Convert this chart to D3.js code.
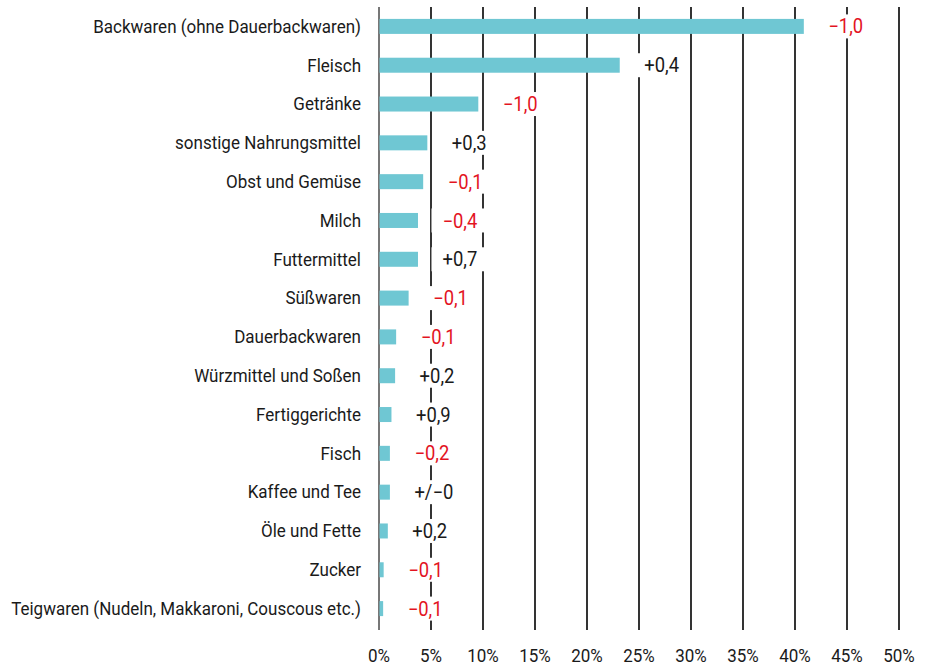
<!DOCTYPE html>
<html>
<head>
<meta charset="utf-8">
<script src="https://cdn.jsdelivr.net/npm/d3@7"></script>
<style>
  body { margin: 0; background: #fff; }
  text { font-family: "Roboto", "Liberation Sans", sans-serif; font-size: 18px; }
  .change-labels text { font-size: 19.5px; }
</style>
</head>
<body>
<svg></svg>
<script>
const categories = [
  'Backwaren (ohne Dauerbackwaren)', 'Fleisch', 'Getränke', 'sonstige Nahrungsmittel',
  'Obst und Gemüse', 'Milch', 'Futtermittel', 'Süßwaren', 'Dauerbackwaren',
  'Würzmittel und Soßen', 'Fertiggerichte', 'Fisch', 'Kaffee und Tee', 'Öle und Fette',
  'Zucker', 'Teigwaren (Nudeln, Makkaroni, Couscous etc.)'
]
const shares = [40.8, 23.1, 9.5, 4.6, 4.2, 3.7, 3.7, 2.8, 1.6, 1.5, 1.15, 1.0, 1.0, 0.8, 0.4, 0.35]
const changes = ['−1,0', '+0,4', '−1,0', '+0,3', '−0,1', '−0,4', '+0,7', '−0,1', '−0,1',
  '+0,2', '+0,9', '−0,2', '+/−0', '+0,2', '−0,1', '−0,1']
const ticks = [0, 5, 10, 15, 20, 25, 30, 35, 40, 45, 50]

const WIDTH = 925
const HEIGHT = 666
const BAR_COLOR = '#6fc7d3'
const RED = '#e3141f'
const INK = '#1a1a1a'
const BAR_H = 15

const data = categories.map((c, i) => ({name: c, value: shares[i], change: changes[i]}))

const x = d3.scaleLinear()
  .domain([0, 50])
  .range([379, 899])
const y = d3.scaleBand()
  .domain(categories)
  .range([7, 628])
const cy = d => y(d.name) + y.bandwidth() / 2

const svg = d3.select('svg')
  .attr('width', WIDTH)
  .attr('height', HEIGHT)

// the reference uses a condensed face; squeeze Roboto to the same width
const probe = svg.append('text').text(categories[0])
const K = 268 / probe.node().getComputedTextLength()
probe.remove()

// gridlines + ticks
svg.append('g')
  .attr('class', 'grid')
  .selectAll('line')
  .data(ticks)
  .enter().append('line')
    .attr('x1', d => x(d))
    .attr('x2', d => x(d))
    .attr('y1', 7)
    .attr('y2', 630)
    .attr('stroke', d => d === 0 ? '#555' : '#000')
    .attr('stroke-width', 1.6)

svg.append('g')
  .attr('class', 'tick-labels')
  .selectAll('text')
  .data(ticks)
  .enter().append('text')
    .attr('transform', d => `translate(${x(d)},662) scale(${K},1)`)
    .attr('text-anchor', 'middle')
    .attr('fill', INK)
    .text(d => d + '%')

// category labels
svg.append('g')
  .attr('class', 'cat-labels')
  .selectAll('text')
  .data(data)
  .enter().append('text')
    .attr('transform', d => `translate(361,${cy(d)}) scale(${K},1)`)
    .attr('dy', '0.35em')
    .attr('text-anchor', 'end')
    .attr('fill', INK)
    .text(d => d.name)

// value labels with white boxes that cut the gridlines
const lab = svg.append('g')
  .attr('class', 'change-labels')
  .selectAll('g')
  .data(data)
  .enter().append('g')
    .attr('transform', d => `translate(${x(d.value) + 25},${cy(d)})`)

lab.append('rect')
  .attr('fill', '#fff')
lab.append('text')
  .attr('transform', `scale(${K},1)`)
  .attr('dy', '0.36em')
  .attr('fill', d => d.change.startsWith('−') ? RED : INK)
  .text(d => d.change)
lab.each(function() {
  const w = d3.select(this).select('text').node().getComputedTextLength() * K
  d3.select(this).select('rect')
    .attr('x', -11)
    .attr('y', -12)
    .attr('width', w + 22)
    .attr('height', 24)
})

// bars
svg.append('g')
  .attr('class', 'bars')
  .selectAll('rect')
  .data(data)
  .enter().append('rect')
    .attr('x', x(0) + 0.5)
    .attr('y', d => y(d.name) + (y.bandwidth() - BAR_H) / 2)
    .attr('width', d => x(d.value) - x(0))
    .attr('height', BAR_H)
    .attr('fill', BAR_COLOR)
</script>
</body>
</html>
